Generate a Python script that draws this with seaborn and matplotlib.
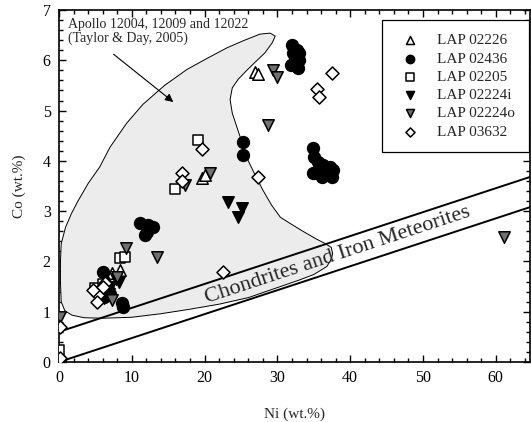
import numpy as np
import matplotlib
matplotlib.use("Agg")
import matplotlib.pyplot as plt
from matplotlib.patches import Polygon
from matplotlib.ticker import MultipleLocator
import seaborn as sns

# --- metal compositions (Ni, Co in wt.%) ---
lap02226_ni = [26.9, 27.3, 19.6, 20.1, 8.4, 7.3, 6.7, 0.1]
lap02226_co = [5.77, 5.73, 3.66, 3.72, 1.83, 1.77, 1.60, 0.05]

lap02436_ni = [32.0, 32.1, 32.5, 32.9, 32.7, 32.3, 31.9, 32.8, 32.4, 33.0,
               34.9, 35.0, 35.6, 36.3, 37.2, 37.6, 36.9, 35.4, 34.9, 36.1, 37.5,
               25.3, 25.3,
               11.1, 12.2, 12.9, 12.1, 11.8,
               8.7, 8.8, 6.0, 6.5, 7.0, 6.2, 0.0, 0.1]
lap02436_co = [6.30, 6.15, 6.10, 6.00, 6.20, 5.95, 5.90, 5.85, 6.05, 6.15,
               4.25, 4.08, 3.98, 3.92, 3.88, 3.82, 3.76, 3.76, 3.76, 3.68, 3.68,
               4.37, 4.12,
               2.76, 2.72, 2.68, 2.58, 2.52,
               1.17, 1.10, 1.79, 1.45, 1.35, 1.30, 0.00, 0.03]

lap02205_ni = [19.1, 15.9, 8.4, 9.1, 4.9, 5.5, 6.0, 0.0]
lap02205_co = [4.41, 3.44, 2.07, 2.09, 1.47, 1.40, 1.55, 0.24]

lap02224i_ni = [23.2, 25.1, 24.6, 7.8, 8.2, 7.0, 6.8, 6.2]
lap02224i_co = [3.18, 3.06, 2.88, 1.65, 1.60, 1.50, 1.35, 1.28]

lap02224o_ni = [29.4, 29.9, 28.7, 20.7, 17.3, 9.2, 13.5, 7.3, 8.0, 0.1, 61.1]
lap02224o_co = [5.80, 5.66, 4.71, 3.76, 3.52, 2.27, 2.09, 1.23, 1.70, 0.90, 2.49]

lap03632_ni = [37.5, 35.4, 35.7, 27.3, 19.6, 16.9, 16.9, 22.5,
               6.3, 5.4, 5.2, 4.7, 6.0, 0.1, 0.1]
lap03632_co = [5.75, 5.43, 5.27, 3.68, 4.23, 3.76, 3.60, 1.79,
               1.57, 1.33, 1.19, 1.43, 1.50, 0.70, 0.08]

# Apollo 12004, 12009, 12022 metal field outline (Taylor & Day, 2005)
apollo_ni = [0.3, 0.2, 0.2, 0.3, 0.9, 1.7, 2.6, 4.0, 5.6, 7.0, 9.3, 11.5,
             14.5, 17.6, 20.5, 23.1, 25.5, 27.6, 29.0, 29.7, 29.3, 28.3,
             27.0, 25.8, 24.6, 23.8, 23.5, 23.8, 24.6, 25.3, 26.0, 27.0,
             28.0, 29.2, 30.4, 31.7, 33.5, 35.3, 36.5, 37.4, 37.6, 37.3,
             36.8, 35.0, 33.0, 30.0, 26.0, 22.0, 18.0, 14.0, 10.0, 6.0,
             3.5, 1.8, 0.8]
apollo_co = [1.20, 1.60, 2.00, 2.35, 2.68, 2.95, 3.20, 3.55, 3.88, 4.27, 4.75, 5.12,
             5.50, 5.82, 6.05, 6.25, 6.40, 6.52, 6.54, 6.48, 6.35, 6.15,
             5.97, 5.80, 5.62, 5.45, 5.22, 4.95, 4.60, 4.30, 4.00, 3.70,
             3.42, 3.12, 2.88, 2.76, 2.60, 2.45, 2.36, 2.28, 2.15, 2.02,
             1.90, 1.74, 1.63, 1.48, 1.28, 1.15, 1.05, 0.96, 0.89, 0.87,
             0.88, 0.93, 1.02]

# chondrite / iron meteorite band: Co = intercept + slope * Ni
band_slope = 0.0476
band_intercepts = [0.0, 0.6]

sns.set_style("ticks")
plt.rcParams["font.family"] = ["Liberation Serif", "DejaVu Serif"]
plt.rcParams["mathtext.fontset"] = "stix"

fig = plt.figure(figsize=(5.31, 4.22), dpi=100)
ax = fig.add_axes([59 / 531, 60 / 422, 471 / 531, 352 / 422])

xmax, ymax = 64.7, 7.0
ax.set_xlim(0, xmax)
ax.set_ylim(0, ymax)

# Apollo field
ax.add_patch(Polygon(np.column_stack([apollo_ni, apollo_co]), closed=True,
                     facecolor="#ececec", edgecolor="black", linewidth=0.7,
                     joinstyle="round", zorder=1))

# band lines
xs = np.array([0.0, xmax])
for b in band_intercepts:
    ax.plot(xs, b + band_slope * xs, color="black", lw=1.4, zorder=2,
            solid_capstyle="butt")

# band label rotated along the lines
p0 = ax.transData.transform((0, 0))
p1 = ax.transData.transform((xmax, band_slope * xmax))
angle = np.degrees(np.arctan2(p1[1] - p0[1], p1[0] - p0[0]))
ax.text(38.3, 0.3 + band_slope * 38.3, "Chondrites and Iron Meteorites",
        rotation=angle, rotation_mode="anchor", ha="center", va="center",
        fontsize=16, zorder=4)

ax.text(1.3, 6.84, "Apollo 12004, 12009 and 12022\n(Taylor & Day, 2005)",
        ha="left", va="top", fontsize=10, linespacing=1.05, zorder=4)
ax.annotate("", xy=(15.7, 5.17), xytext=(7.5, 6.12),
            arrowprops=dict(arrowstyle="-|>", color="black", lw=0.8,
                            mutation_scale=12, shrinkA=0, shrinkB=0),
            zorder=4)

series = [
    ("LAP 02226", lap02226_ni, lap02226_co, "^", "white", 68),
    ("LAP 02436", lap02436_ni, lap02436_co, "o", "black", 72),
    ("LAP 02205", lap02205_ni, lap02205_co, "s", "white", 52),
    ("LAP 02224i", lap02224i_ni, lap02224i_co, "v", "black", 68),
    ("LAP 02224o", lap02224o_ni, lap02224o_co, "v", "#707070", 68),
    ("LAP 03632", lap03632_ni, lap03632_co, "D", "white", 44),
]
for name, ni, co, mk, fc, size in series:
    sns.scatterplot(x=ni, y=co, marker=mk, color=fc, edgecolor="black",
                    linewidth=1.1, s=size, ax=ax, label=name, zorder=3)

leg = ax.legend(loc="upper right", bbox_to_anchor=(0.998, 0.972),
                frameon=True, fancybox=False, edgecolor="black",
                framealpha=1, fontsize=11, borderpad=0.9, labelspacing=0.3,
                handlelength=1.8, handletextpad=0.9, markerscale=0.7,
                borderaxespad=0)
leg.get_frame().set_linewidth(0.9)

ax.set_xlabel("Ni (wt.%)", fontsize=11, labelpad=15)
ax.set_ylabel("Co (wt.%)", fontsize=11, labelpad=12)

ax.xaxis.set_major_locator(MultipleLocator(10))
ax.xaxis.set_minor_locator(MultipleLocator(2))
ax.yaxis.set_major_locator(MultipleLocator(1))
ax.yaxis.set_minor_locator(MultipleLocator(0.2))
ax.tick_params(which="both", direction="in", top=True, right=True,
               width=1.0, colors="black")
ax.tick_params(which="major", length=5, labelsize=11.5, pad=6)
ax.tick_params(which="minor", length=3)
for sp in ax.spines.values():
    sp.set_visible(True)
    sp.set_linewidth(1.2)
    sp.set_color("black")

fig.savefig("out.png", dpi=100)
